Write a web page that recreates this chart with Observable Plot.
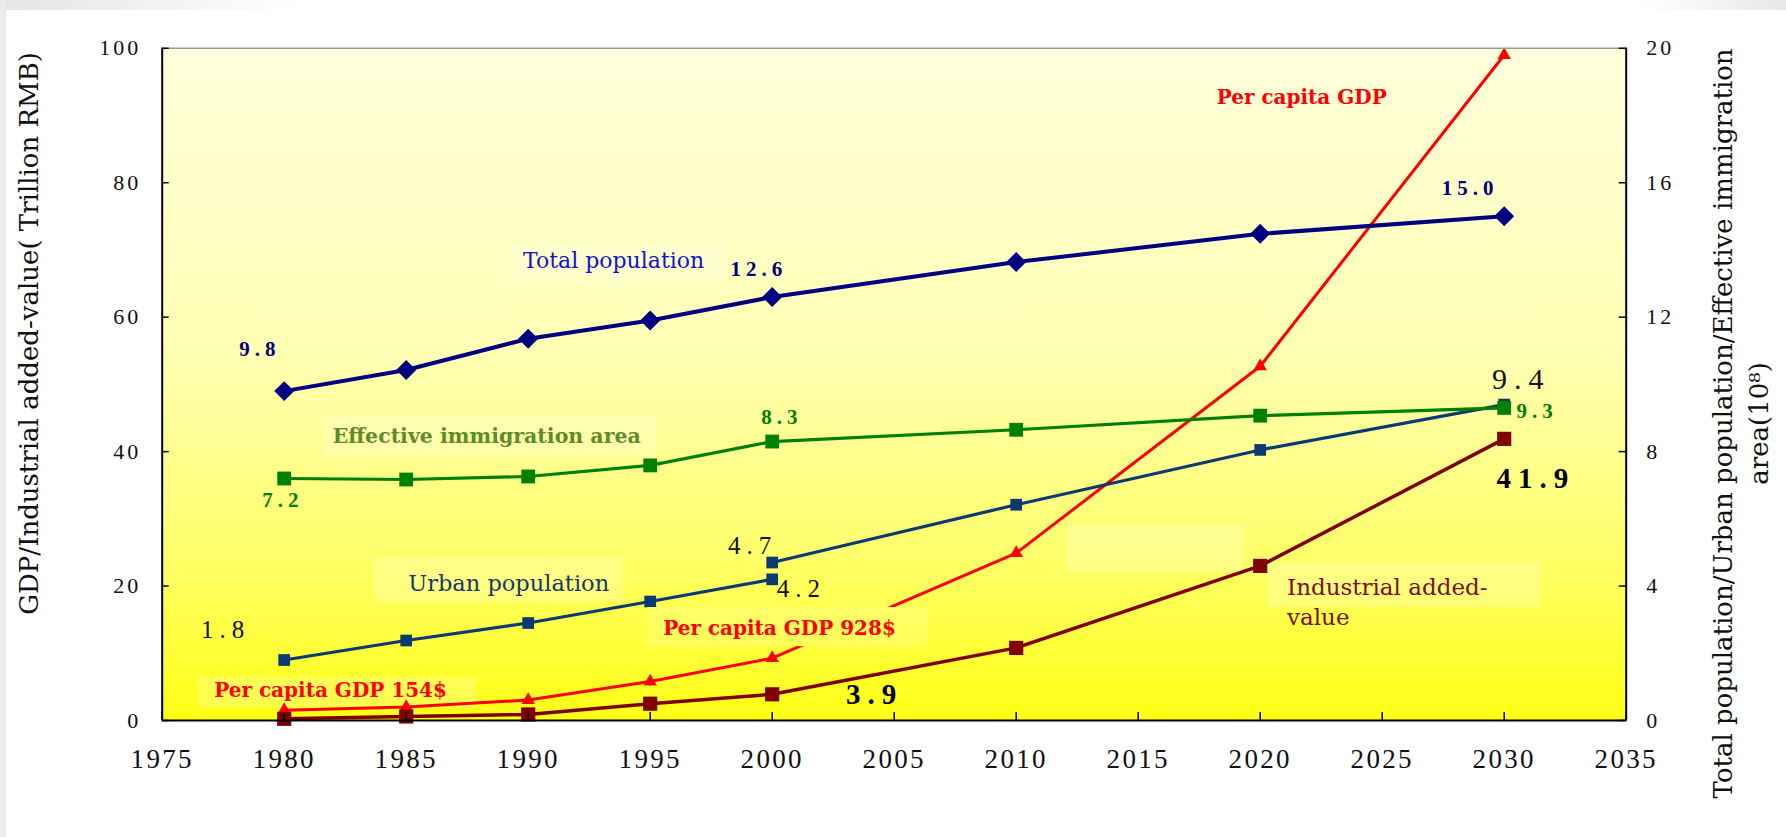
<!DOCTYPE html>
<html>
<head>
<meta charset="utf-8">
<script src="https://cdn.jsdelivr.net/npm/d3@7"></script>
<script src="https://cdn.jsdelivr.net/npm/@observablehq/plot@0.6"></script>
<style>
  html, body { margin: 0; padding: 0; background: #fff; }
  #chart { position: relative; width: 1786px; height: 837px; overflow: hidden; }
  #chart svg { position: absolute; left: 0; top: 0; }
  .shade-top { position: absolute; left: 0; top: 0; width: 1786px; height: 10px;
    background: linear-gradient(to right, #e4e4e4 0, #ffffff 300px, #ffffff 1640px, #e8e8e8 1786px); }
  .shade-left { position: absolute; left: 0; top: 0; width: 6px; height: 837px; background: #ececec; }
</style>
</head>
<body>
<div id="chart"><div class="shade-top"></div><div class="shade-left"></div></div>
<script>
// Years observed / projected
const years = [1980, 1985, 1990, 1995, 2000, 2010, 2020, 2030];

// Right axis series (10^8)
const totalPopulation = [9.8, 10.43, 11.36, 11.9, 12.6, 13.64, 14.48, 15.0];
const effectiveArea   = [7.2, 7.17, 7.26, 7.59, 8.3, 8.65, 9.07, 9.3];
const urbanHistYears  = [1980, 1985, 1990, 1995, 2000];
const urbanHist       = [1.8, 2.38, 2.9, 3.54, 4.2];
const urbanProjYears  = [2000, 2010, 2020, 2030];
const urbanProj       = [4.7, 6.42, 8.05, 9.4];

// Left axis series (trillion RMB; per capita GDP in hundreds of US$)
const industrialValue = [0.25, 0.6, 0.9, 2.5, 3.9, 10.8, 23.0, 41.9];
const perCapitaGDP    = [1.54, 2.0, 3.05, 5.8, 9.28, 24.9, 52.7, 99.0];

// Axis ticks
const leftTicks  = [0, 20, 40, 60, 80, 100];
const rightTicks = [0, 4, 8, 12, 16, 20];
const yearTicks  = [1975, 1980, 1985, 1990, 1995, 2000, 2005, 2010, 2015, 2020, 2025, 2030, 2035];

// one unit on the right axis equals this many units on the left axis
const RIGHT_TO_LEFT = 5;

const toRows = (xs, vs, k = 1) => xs.map((x, i) => ({year: x, value: vs[i] * k}));

const totalRows      = toRows(years, totalPopulation, RIGHT_TO_LEFT);
const areaRows       = toRows(years, effectiveArea, RIGHT_TO_LEFT);
const urbanHistRows  = toRows(urbanHistYears, urbanHist, RIGHT_TO_LEFT);
const urbanProjRows  = toRows(urbanProjYears, urbanProj, RIGHT_TO_LEFT);
const industrialRows = toRows(years, industrialValue);
const perCapitaRows  = toRows(years, perCapitaGDP);

const SERIF = "'Liberation Serif', 'Times New Roman', serif";
const TITLE = "'DejaVu Serif', serif";

// pale text boxes behind the annotations (year / value extents)
const paleBoxes = [
  {x1: 1989.3, x2: 1998.0, y1: 64.9, y2: 70.7},
  {x1: 1981.6, x2: 1995.3, y1: 39.1, y2: 45.1},
  {x1: 1983.7, x2: 1993.9, y1: 17.6, y2: 24.1},
  {x1: 1976.5, x2: 1987.9, y1: 1.9,  y2: 6.4},
  {x1: 2012.1, x2: 2019.3, y1: 22.0, y2: 29.0},
  {x1: 2020.3, x2: 2031.5, y1: 16.8, y2: 23.5}
];
const gdpBox = [{x1: 1994.9, x2: 2006.4, y1: 11.0, y2: 16.8}];

function label(text, x, y, o = {}) {
  return Plot.text([text], {
    x: () => x, y: () => y, text: d => d,
    fontFamily: TITLE, textAnchor: "middle", lineAnchor: "middle", ...o
  });
}

const chart = Plot.plot({
  width: 1786,
  height: 837,
  marginLeft: 161.7,
  marginRight: 160.3,
  marginTop: 47.8,
  marginBottom: 117,
  x: {domain: [1975, 2035]},
  y: {domain: [0, 100]},
  style: {background: "transparent", fontFamily: SERIF},
  marks: [
    Plot.frame({fill: "url(#plotBg)", stroke: "none"}),
    Plot.rect(paleBoxes, {x1: "x1", x2: "x2", y1: "y1", y2: "y2", fill: "#ffffff", fillOpacity: 0.22}),

    // per capita GDP
    Plot.line(perCapitaRows, {x: "year", y: "value", stroke: "#ff0000", strokeWidth: 3}),
    Plot.dot(perCapitaRows, {x: "year", y: "value", symbol: "triangle", r: 5, fill: "#ff0000", stroke: "none"}),
    // industrial added-value
    Plot.line(industrialRows, {x: "year", y: "value", stroke: "#800000", strokeWidth: 3.5}),
    Plot.dot(industrialRows, {x: "year", y: "value", symbol: "square", r: 8, fill: "#800000", stroke: "none"}),
    // urban population
    Plot.line(urbanHistRows, {x: "year", y: "value", stroke: "#0b3a73", strokeWidth: 3.2}),
    Plot.line(urbanProjRows, {x: "year", y: "value", stroke: "#0b3a73", strokeWidth: 3.2}),
    Plot.dot(urbanHistRows, {x: "year", y: "value", symbol: "square", r: 6.6, fill: "#0b3a73", stroke: "none"}),
    Plot.dot(urbanProjRows, {x: "year", y: "value", symbol: "square", r: 6.6, fill: "#0b3a73", stroke: "none"}),
    // effective immigration area
    Plot.line(areaRows, {x: "year", y: "value", stroke: "#008000", strokeWidth: 3.2}),
    Plot.dot(areaRows, {x: "year", y: "value", symbol: "square", r: 7.8, fill: "#008000", stroke: "none"}),
    // total population
    Plot.line(totalRows, {x: "year", y: "value", stroke: "#000080", strokeWidth: 4}),
    Plot.dot(totalRows, {x: "year", y: "value", symbol: "diamond2", r: 9, fill: "#000080", stroke: "none"}),

    // opaque label box that hides the per capita GDP line
    Plot.rect(gdpBox, {x1: "x1", x2: "x2", y1: "y1", y2: "y2", fill: "url(#plotBg)"}),
    Plot.rect(gdpBox, {x1: "x1", x2: "x2", y1: "y1", y2: "y2", fill: "#ffffff", fillOpacity: 0.15}),

    // plot border
    Plot.ruleY([100], {stroke: "#9a9a9a", strokeWidth: 1.5}),
    Plot.ruleY([0], {stroke: "#000", strokeWidth: 2}),
    Plot.ruleX([1975, 2035], {stroke: "#000", strokeWidth: 2}),

    // axes: inward ticks
    Plot.axisX({ticks: yearTicks, tickSize: -8, text: null, stroke: "#000", strokeWidth: 1.5}),
    Plot.axisY({ticks: leftTicks, anchor: "left", tickSize: -7, text: null, stroke: "#000", strokeWidth: 1.5}),
    Plot.axisY({ticks: leftTicks, anchor: "right", tickSize: -8, text: null, stroke: "#000", strokeWidth: 1.5}),
    // axes: tick labels
    Plot.axisX({ticks: yearTicks, tickSize: 0, tickPadding: 28, tickFormat: d => String(d),
      fontSize: 27, fill: "#111"}),
    Plot.axisY({ticks: leftTicks, anchor: "left", tickSize: 0, tickPadding: 21, tickFormat: d => String(d),
      fontSize: 22, fill: "#111"}),
    Plot.axisY(rightTicks.map(d => d * RIGHT_TO_LEFT), {anchor: "right", tickSize: 0, tickPadding: 20,
      tickFormat: d => String(d / RIGHT_TO_LEFT), fontSize: 22, fill: "#111"}),

    // axis titles
    Plot.text(["GDP/Industrial added-value( Trillion RMB)"], {frameAnchor: "left", text: d => d, rotate: -90,
      dx: -133, dy: -51, fontFamily: TITLE, fontSize: 26, fill: "#111", textAnchor: "middle", lineAnchor: "middle"}),
    Plot.text(["Total population/Urban population/Effective immigration"], {frameAnchor: "right", text: d => d, rotate: -90,
      dx: 97, dy: 39, fontFamily: TITLE, fontSize: 26, fill: "#111", textAnchor: "middle", lineAnchor: "middle"}),
    Plot.text(["area(10⁸)"], {frameAnchor: "right", text: d => d, rotate: -90,
      dx: 133, dy: 39, fontFamily: TITLE, fontSize: 26, fill: "#111", textAnchor: "middle", lineAnchor: "middle"}),

    // series names
    label("Total population", 1993.5, 68.3, {fontSize: 22, fill: "#1414cc"}),
    label("Effective immigration area", 1988.3, 42.2, {fontSize: 20.5, fontWeight: "bold", fill: "#5f8b2b"}),
    label("Urban population", 1989.2, 20.3, {fontSize: 22.5, fill: "#17386a"}),
    label("Per capita GDP 928$", 2000.3, 13.7, {fontSize: 20, fontWeight: "bold", fill: "#ff0000"}),
    label("Per capita GDP 154$", 1981.9, 4.4, {fontSize: 20, fontWeight: "bold", fill: "#ff0000"}),
    label("Per capita GDP", 2021.7, 92.6, {fontSize: 20, fontWeight: "bold", fill: "#ff0000"}),
    label("Industrial added-\nvalue", 2021.1, 17.8, {fontSize: 23, fill: "#7a0e0e", textAnchor: "start", lineHeight: 1.3}),

    // value labels
    Plot.text([
      {t: "9.8",  x: 1979.0, y: 55.3},
      {t: "12.6", x: 1999.45, y: 67.2},
      {t: "15.0", x: 2028.6, y: 79.2}
    ], {x: "x", y: "y", text: "t", fontSize: 21, fontWeight: "bold", fill: "#000080",
        textAnchor: "middle", lineAnchor: "middle"}),
    Plot.text([
      {t: "7.2", x: 1979.95, y: 32.8},
      {t: "8.3", x: 2000.4, y: 45.1},
      {t: "9.3", x: 2031.35, y: 46.0}
    ], {x: "x", y: "y", text: "t", fontSize: 21, fontWeight: "bold", fill: "#008000",
        textAnchor: "middle", lineAnchor: "middle"}),
    Plot.text([
      {t: "4.7", x: 1999.2, y: 26.0},
      {t: "4.2", x: 2001.2, y: 19.5},
      {t: "1.8", x: 1977.6, y: 13.4}
    ], {x: "x", y: "y", text: "t", fontSize: 25, fill: "#111",
        textAnchor: "middle", lineAnchor: "middle"}),
    Plot.text([{t: "9.4", x: 2030.7, y: 50.8}], {x: "x", y: "y", text: "t", fontSize: 30, fill: "#111",
        textAnchor: "middle", lineAnchor: "middle"}),
    Plot.text([
      {t: "3.9",  x: 2004.2, y: 3.9},
      {t: "41.9", x: 2031.3, y: 36.0}
    ], {x: "x", y: "y", text: "t", fontSize: 29, fontWeight: "bold", fill: "#000",
        textAnchor: "middle", lineAnchor: "middle"})
  ]
});

// background gradient of the plotting area
const svgNS = "http://www.w3.org/2000/svg";
const defs = document.createElementNS(svgNS, "defs");
const grad = document.createElementNS(svgNS, "linearGradient");
grad.setAttribute("id", "plotBg");
grad.setAttribute("gradientUnits", "userSpaceOnUse");
grad.setAttribute("x1", "0"); grad.setAttribute("x2", "0");
grad.setAttribute("y1", "48"); grad.setAttribute("y2", "720");
[["0", "#ffffdc"], ["0.45", "#ffffb4"], ["0.75", "#ffff6c"], ["1", "#ffff14"]].forEach(([o, c]) => {
  const s = document.createElementNS(svgNS, "stop");
  s.setAttribute("offset", o); s.setAttribute("stop-color", c);
  grad.appendChild(s);
});
defs.appendChild(grad);
chart.insertBefore(defs, chart.firstChild);

// wide digit spacing of the axis tick labels and value labels
d3.select(chart).selectAll('g[aria-label="x-axis tick label"] text').style("letter-spacing", "2.3px");
d3.select(chart).selectAll('g[aria-label="y-axis tick label"] text').style("letter-spacing", "3px");
d3.select(chart).selectAll("text").each(function () {
  if (!/^\d+\.\d$/.test(this.textContent)) return;
  const g = this.closest("g[font-size]");
  const fs = g ? +g.getAttribute("font-size") : 21;
  const ls = fs <= 22 ? 5 : fs <= 26 ? 6 : 7;
  this.style.letterSpacing = `${ls}px`;
});

document.getElementById("chart").appendChild(chart);
</script>
</body>
</html>
